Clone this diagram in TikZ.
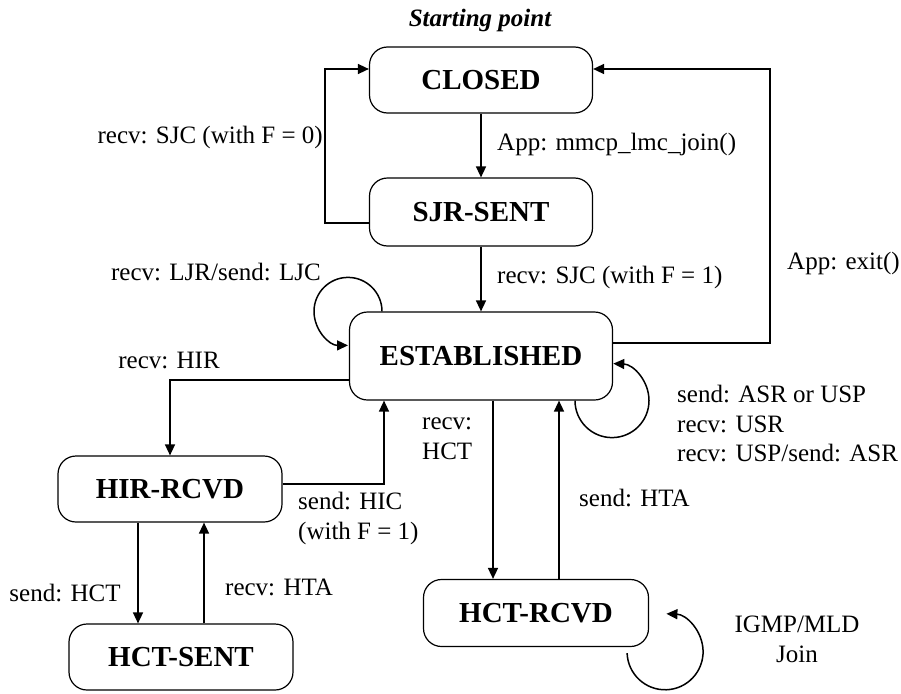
\documentclass[tikz,border=0pt]{standalone}
\usepackage{fontspec}
\setmainfont{Liberation Serif}
\usetikzlibrary{arrows.meta}
\begin{document}
\begin{tikzpicture}[x=1pt,y=1pt,
  state/.style={draw, line width=1.2pt, rounded corners=18pt, font=\fontsize{29}{33}\selectfont\bfseries, inner sep=0pt},
  arr/.style={line width=1.5pt, -{Triangle[length=11pt,width=10pt]}},
  lbl/.style={font=\fontsize{25}{29.5}\selectfont, inner sep=0pt},
]
\useasboundingbox (0,0) rectangle (901,-693);
% states
\node[state, minimum width=223pt, minimum height=66pt] (closed) at (481,-80) {CLOSED};
\node[state, minimum width=223pt, minimum height=68pt] (sjr) at (481,-212) {SJR-SENT};
\node[state, minimum width=263pt, minimum height=88pt] (est) at (481,-356) {ESTABLISHED};
\node[state, minimum width=224pt, minimum height=66pt] (hir) at (170,-489) {HIR-RCVD};
\node[state, minimum width=224pt, minimum height=66pt] (hcts) at (181,-657) {HCT-SENT};
\node[state, minimum width=225pt, minimum height=67pt] (hctr) at (536,-613) {HCT-RCVD};
% labels
\node[lbl, font=\fontsize{25}{29.5}\selectfont\bfseries\itshape] (start) at (480,-20) {Starting point};
\node[lbl, anchor=west] (l1) at (497,-144) {App: mmcp\_lmc\_join()};
\node[lbl, anchor=east] (l2) at (323,-137) {recv: SJC (with F = 0)};
\node[lbl] (l3) at (216,-272) {recv: LJR/send: LJC};
\node[lbl, anchor=west] (l4) at (497,-277) {recv: SJC (with F = 1)};
\node[lbl, anchor=west] (l5) at (787,-263) {App: exit()};
\node[lbl] (l6) at (169,-360) {recv: HIR};
\node[lbl, anchor=north west, align=left] (l7) at (677,-385) {send: ASR or USP\\recv: USR\\recv: USP/send: ASR};
\node[lbl, anchor=north west, align=left] (l8) at (422,-418) {recv:\\HCT};
\node[lbl, anchor=west] (l9) at (579,-498) {send: HTA};
\node[lbl, anchor=north west, align=left] (l10) at (298,-492) {send: HIC\\(with F = 1)};
\node[lbl] (l11) at (65,-593) {send: HCT};
\node[lbl, anchor=west] (l12) at (225,-587) {recv: HTA};
\node[lbl, align=center, anchor=north] (l13) at (797,-616) {IGMP/MLD\\Join};
% connectors
\draw[arr] (closed.south) -- (sjr.north);
\draw[arr] ([yshift=-11pt]sjr.west) -- ++(-44,0) |- ([yshift=11pt]closed.west);
\draw[arr] (sjr.south) -- (est.north);
\draw[arr] ([yshift=13pt]est.east) -- ++(157,0) |- ([yshift=11pt]closed.east);
\draw[arr] ([yshift=-24pt]est.west) -| (hir.north);
\draw[arr] ([yshift=5pt]hir.east) -| ([xshift=-97pt]est.south);
\draw[arr] ([xshift=12pt]est.south) -- ([xshift=-43pt]hctr.north);
\draw[arr] ([xshift=23pt]hctr.north) -- ([xshift=78pt]est.south);
\draw[arr] ([xshift=-32pt]hir.south) -- ([xshift=-43pt]hcts.north);
\draw[arr] ([xshift=23pt]hcts.north) -- ([xshift=34pt]hir.south);
% self loops
\draw[arr] ([xshift=-99pt]est.north) arc[start angle=0, end angle=270, radius=34];
\draw[arr] ([xshift=94pt]est.south) arc[start angle=180, end angle=448, radius=37];
\draw[arr] ([xshift=-22pt,yshift=-6pt]hctr.south east) arc[start angle=182, end angle=448, radius=38];
\end{tikzpicture}
\end{document}
